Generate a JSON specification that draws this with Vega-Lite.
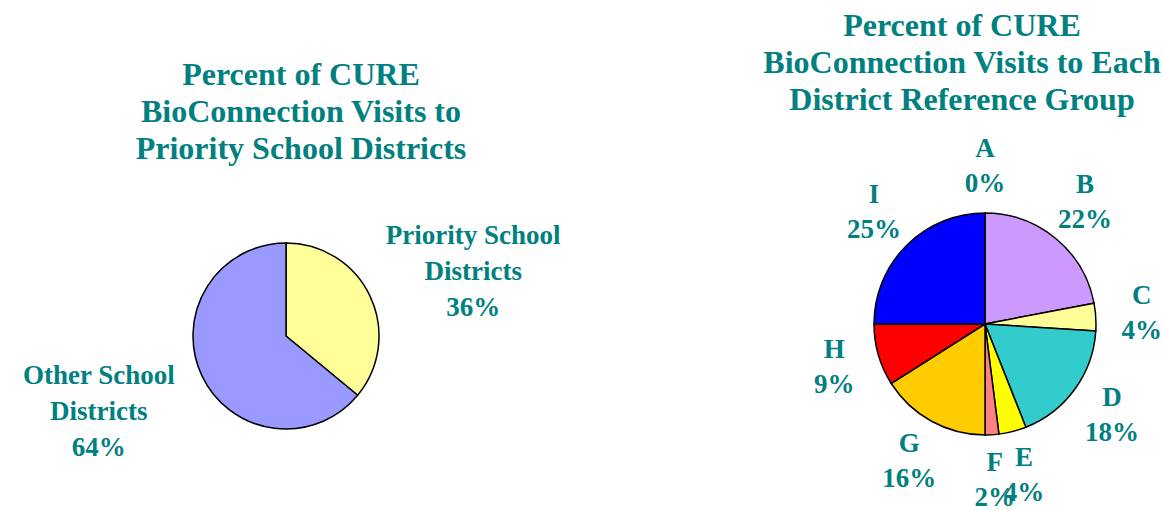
{
  "$schema": "https://vega.github.io/schema/vega-lite/v6.json",
  "background": "white",
  "padding": {"left": 0, "top": 10, "right": 0, "bottom": 0},
  "spacing": 253,
  "bounds": "flush",
  "resolve": {"scale": {"color": "independent", "theta": "independent"}},
  "config": {
    "view": {"stroke": null},
    "title": {"font": "Liberation Serif", "fontSize": 32, "fontWeight": "bold", "color": "#008080", "lineHeight": 37, "anchor": "middle", "frame": "group"}
  },
  "hconcat": [
    {
      "width": 572,
      "height": 330,
      "title": {"text": ["Percent of CURE", "BioConnection Visits to", "Priority School Districts"], "offset": 5, "dx": 15},
      "data": {"values": [
        {"district": "Priority School Districts", "label": "Priority School\nDistricts\n36%", "percent": 36, "order": 1},
        {"district": "Other School Districts", "label": "Other School\nDistricts\n64%", "percent": 64, "order": 2}
      ]},
      "encoding": {
        "theta": {"field": "percent", "type": "quantitative", "stack": true},
        "order": {"field": "order", "type": "quantitative"}
      },
      "layer": [
        {
          "mark": {"type": "arc", "outerRadius": 93, "stroke": "black", "strokeWidth": 1.5},
          "encoding": {
            "color": {"field": "district", "type": "nominal", "legend": null,
              "scale": {"domain": ["Priority School Districts", "Other School Districts"], "range": ["#FFFF99", "#9999FF"]}}
          }
        },
        {
          "mark": {"type": "text", "radius": 200, "thetaOffset": 0.08, "dy": -30, "font": "Liberation Serif", "fontSize": 27, "fontWeight": "bold", "color": "#008080", "lineBreak": "\n", "lineHeight": 36, "align": "center", "baseline": "middle"},
          "encoding": {"text": {"field": "label", "type": "nominal"}}
        }
      ]
    },
    {
      "width": 320,
      "height": 306,
      "title": {"text": ["Percent of CURE", "BioConnection Visits to Each", "District Reference Group"], "offset": 18, "dx": -23},
      "data": {"values": [
        {"group": "A", "label": "A\n0%", "percent": 0, "order": 1},
        {"group": "B", "label": "B\n22%", "percent": 22, "order": 2},
        {"group": "C", "label": "C\n4%", "percent": 4, "order": 3},
        {"group": "D", "label": "D\n18%", "percent": 18, "order": 4},
        {"group": "E", "label": "E\n4%", "percent": 4, "order": 5},
        {"group": "F", "label": "F\n2%", "percent": 2, "order": 6},
        {"group": "G", "label": "G\n16%", "percent": 16, "order": 7},
        {"group": "H", "label": "H\n9%", "percent": 9, "order": 8},
        {"group": "I", "label": "I\n25%", "percent": 25, "order": 9}
      ]},
      "encoding": {
        "theta": {"field": "percent", "type": "quantitative", "stack": true},
        "order": {"field": "order", "type": "quantitative"}
      },
      "layer": [
        {
          "mark": {"type": "arc", "outerRadius": 111, "stroke": "black", "strokeWidth": 1.5},
          "encoding": {
            "color": {"field": "group", "type": "nominal", "legend": null,
              "scale": {"domain": ["A", "B", "C", "D", "E", "F", "G", "H", "I"],
                "range": ["#000080", "#CC99FF", "#FFFF99", "#33CCCC", "#FFFF00", "#FF8080", "#FFCC00", "#FF0000", "#0000FF"]}}
          }
        },
        {
          "mark": {"type": "text", "radius": 157, "dy": -18, "font": "Liberation Serif", "fontSize": 27, "fontWeight": "bold", "color": "#008080", "lineBreak": "\n", "lineHeight": 35, "align": "center", "baseline": "middle"},
          "encoding": {"text": {"field": "label", "type": "nominal"}}
        }
      ]
    }
  ]
}
